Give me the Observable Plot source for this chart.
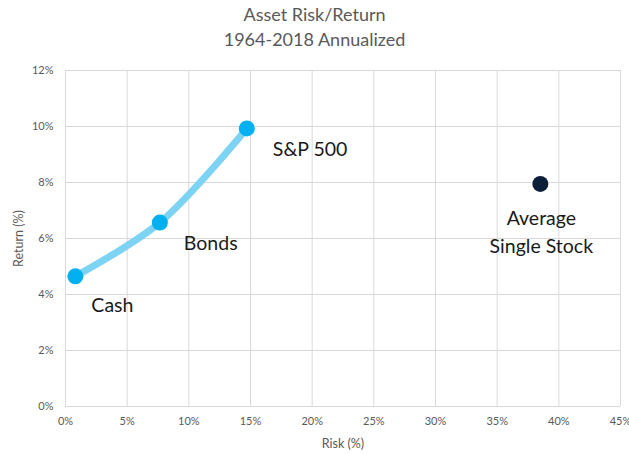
<!DOCTYPE html>
<html>
<head>
<meta charset="utf-8">
<script src="https://cdn.jsdelivr.net/npm/d3@7"></script>
<script src="https://cdn.jsdelivr.net/npm/@observablehq/plot@0.6"></script>
<style>
  html, body { margin: 0; padding: 0; background: #fff; }
  body { width: 629px; height: 454px; overflow: hidden; font-family: Lato, "Open Sans", sans-serif; }
  #title { height: 56px; text-align: center; color: #595959; font-size: 18px; line-height: 25px; padding-top: 2px; box-sizing: border-box; }
</style>
</head>
<body>
<div id="title"><div>Asset Risk/Return</div><div>1964-2018 Annualized</div></div>
<div id="chart"></div>
<script>
const assets = ["Cash", "Bonds", "S&P 500", "Average Single Stock"];
const risk = [0.8, 7.65, 14.7, 38.5];
const ret = [4.65, 6.57, 9.93, 7.95];
const xTicks = [0, 5, 10, 15, 20, 25, 30, 35, 40, 45];
const yTicks = [0, 2, 4, 6, 8, 10, 12];

const data = assets.map((a, i) => ({asset: a, risk: risk[i], ret: ret[i]}));
const blended = data.slice(0, 3);
const single = data.slice(3);

const labelStyle = {fontSize: 19.5, fill: "#1a1a1a"};

const chart = Plot.plot({
  width: 629,
  height: 398,
  marginTop: 14,
  marginBottom: 48,
  marginLeft: 65,
  marginRight: 9,
  style: {fontFamily: "Lato, 'Open Sans', sans-serif", color: "#595959", background: "#fff"},
  x: {domain: [0, 45], ticks: xTicks, tickFormat: d => d + "%", label: null},
  y: {domain: [0, 12], ticks: yTicks, tickFormat: d => d + "%", label: null},
  marks: [
    Plot.gridX(xTicks, {stroke: "#d9d9d9", strokeOpacity: 1}),
    Plot.gridY(yTicks, {stroke: "#d9d9d9", strokeOpacity: 1}),
    Plot.axisX({ticks: xTicks, tickFormat: d => d + "%", tickSize: 0, tickPadding: 11, fontSize: 11, fill: "#595959", label: null}),
    Plot.axisY({ticks: yTicks, tickFormat: d => d + "%", tickSize: 0, tickPadding: 12, fontSize: 11, fill: "#595959", label: null}),
    Plot.text(["Risk (%)"], {frameAnchor: "bottom", textAnchor: "middle", lineAnchor: "middle", dy: 37, fontSize: 12.5, fill: "#595959"}),
    Plot.text(["Return (%)"], {frameAnchor: "left", textAnchor: "middle", lineAnchor: "middle", dx: -47, rotate: -90, fontSize: 12.5, fill: "#595959"}),
    Plot.line(blended, {x: "risk", y: "ret", curve: "catmull-rom", stroke: "#7dd3f3", strokeWidth: 7, strokeLinecap: "round"}),
    Plot.dot(blended, {x: "risk", y: "ret", r: 8, fill: "#00b0f0"}),
    Plot.dot(single, {x: "risk", y: "ret", r: 8, fill: "#0b1f3a"}),
    Plot.text(blended.filter(d => d.asset === "Cash"), {x: "risk", y: "ret", text: "asset", textAnchor: "start", dx: 16, dy: 29, ...labelStyle}),
    Plot.text(blended.filter(d => d.asset === "Bonds"), {x: "risk", y: "ret", text: "asset", textAnchor: "start", dx: 24, dy: 21, ...labelStyle}),
    Plot.text(blended.filter(d => d.asset === "S&P 500"), {x: "risk", y: "ret", text: "asset", textAnchor: "start", dx: 26, dy: 21, ...labelStyle}),
    Plot.text(single, {x: "risk", y: "ret", text: d => "Average\nSingle Stock", textAnchor: "middle", lineAnchor: "middle", lineHeight: 1.44, dx: 1, dy: 46, ...labelStyle})
  ]
});
document.getElementById("chart").appendChild(chart);
</script>
</body>
</html>
